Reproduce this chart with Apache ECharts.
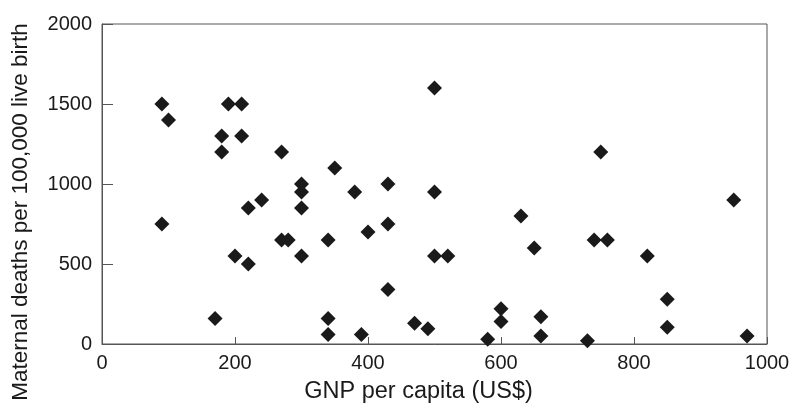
<!DOCTYPE html>
<html>
<head>
<meta charset="utf-8">
<script src="https://cdn.jsdelivr.net/npm/echarts@6/dist/echarts.min.js"></script>
<style>
  html, body { margin: 0; padding: 0; background: #fff; }
  #chart { width: 789px; height: 405px; }
</style>
</head>
<body>
<div id="chart"></div>
<script>
// GNP per capita (US$) for each country
const gnpPerCapita = [
  90, 100, 90, 180, 180, 190, 210, 210, 170, 200,
  220, 220, 240, 270, 270, 280, 300, 300, 300, 300,
  340, 340, 340, 350, 380, 390, 400, 430, 430, 430,
  470, 490, 500, 500, 500, 520, 580, 600, 600, 630,
  650, 660, 660, 730, 740, 750, 760, 820, 850, 850,
  950, 970
];
// Maternal deaths per 100,000 live births, same order
const maternalDeaths = [
  1500, 1400, 750, 1300, 1200, 1500, 1500, 1300, 160, 550,
  500, 850, 900, 1200, 650, 650, 1000, 950, 850, 550,
  650, 160, 60, 1100, 950, 60, 700, 1000, 750, 340,
  130, 95, 1600, 950, 550, 550, 30, 220, 140, 800,
  600, 170, 50, 20, 650, 1200, 650, 550, 280, 105,
  900, 50
];
const xTicks = { min: 0, max: 1000, interval: 200 };
const yTicks = { min: 0, max: 2000, interval: 500 };

const points = gnpPerCapita.map((x, i) => [x, maternalDeaths[i]]);

const axisFont = { fontFamily: 'Liberation Sans, Arial, sans-serif', color: '#1a1a1a' };
const frameLine = { show: true, lineStyle: { color: '#555', width: 1 } };
const plainNumber = v => String(v);

const chart = echarts.init(document.getElementById('chart'));
chart.setOption({
  animation: false,
  backgroundColor: '#fff',
  grid: {
    left: 102, right: 22, top: 24, bottom: 61,
    outerBoundsMode: 'none', containLabel: false,
    show: true, borderColor: '#555', borderWidth: 1
  },
  xAxis: {
    type: 'value',
    min: xTicks.min, max: xTicks.max, interval: xTicks.interval,
    name: 'GNP per capita (US$)',
    nameLocation: 'middle',
    nameGap: 36,
    nameTextStyle: Object.assign({ fontSize: 23.5, padding: [0, 32, 0, 0] }, axisFont),
    axisLine: frameLine,
    axisTick: { show: true, inside: true, length: 7, lineStyle: { color: '#555' } },
    axisLabel: Object.assign({ fontSize: 20, margin: 9, formatter: plainNumber }, axisFont),
    splitLine: { show: false }
  },
  yAxis: {
    type: 'value',
    min: yTicks.min, max: yTicks.max, interval: yTicks.interval,
    name: 'Maternal deaths per 100,000 live birth',
    nameLocation: 'middle',
    nameGap: 70,
    nameTextStyle: Object.assign({ fontSize: 22.5, padding: [0, 56, 0, 0] }, axisFont),
    axisLine: frameLine,
    axisTick: { show: true, inside: true, length: 11, lineStyle: { color: '#555' } },
    axisLabel: Object.assign({ fontSize: 20, margin: 10, formatter: plainNumber }, axisFont),
    splitLine: { show: false }
  },
  series: [{
    type: 'scatter',
    data: points,
    symbol: 'diamond',
    symbolSize: 15,
    itemStyle: { color: '#1a1a1a', opacity: 1 }
  }]
});
</script>
</body>
</html>
